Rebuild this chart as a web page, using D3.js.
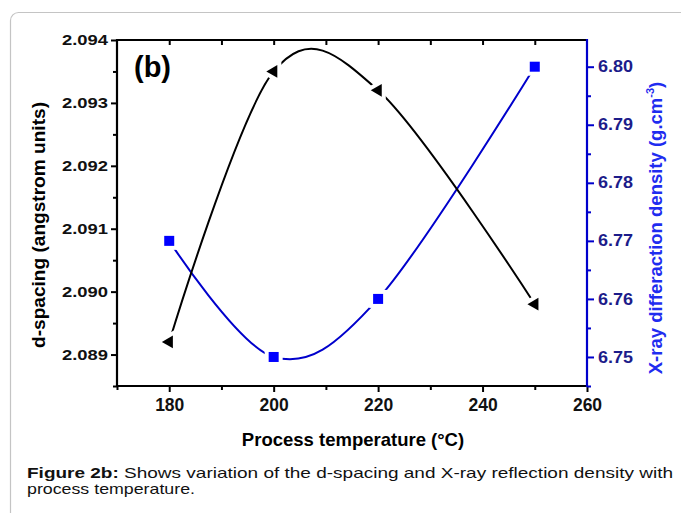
<!DOCTYPE html>
<html>
<head>
<meta charset="utf-8">
<script src="https://cdn.jsdelivr.net/npm/d3@7"></script>
<style>
  body { margin: 0; background: #fff; }
  svg { display: block; font-family: "Liberation Sans", Arial, sans-serif; }
</style>
</head>
<body>
<svg id="chart"></svg>
<script>
var width = 681;
var height = 513;

// data
var temperatures = [180, 200, 220, 250];
var dSpacing = [2.0892, 2.0935, 2.0932, 2.0898];
var density = [6.770, 6.750, 6.760, 6.800];

var xTicks = [180, 200, 220, 240, 260];
var xMinorTicks = [170, 190, 210, 230, 250];
var leftTicks = [2.089, 2.090, 2.091, 2.092, 2.093, 2.094];
var leftMinorTicks = [2.0885, 2.0895, 2.0905, 2.0915, 2.0925, 2.0935];
var rightTicks = [6.75, 6.76, 6.77, 6.78, 6.79, 6.80];
var rightMinorTicks = [6.745, 6.755, 6.765, 6.775, 6.785, 6.795];

var svg = d3.select('#chart').attr('width', width).attr('height', height);

// panel frame
svg.append('rect')
  .attr('x', 10.5).attr('y', 12.5)
  .attr('width', 720).attr('height', 560)
  .attr('rx', 8)
  .attr('fill', 'none')
  .attr('stroke', '#c4c4c4')
  .attr('stroke-width', 1.2);

var plot = {left: 117, right: 587, top: 40, bottom: 386};

var x = d3.scaleLinear().domain([170, 260]).range([plot.left, plot.right]);
var yLeft = d3.scaleLinear().domain([2.0885, 2.094]).range([plot.bottom, plot.top]);
var yRight = d3.scaleLinear().domain([6.745, 6.8046]).range([plot.bottom, plot.top]);

var blueLine = '#0000cc';
var blueMark = '#0000ff';
var blueText = '#1c1c8a';

// top axis: ticks pointing inward, no labels
var topAxis = svg.append('g')
  .attr('transform', 'translate(0,' + plot.top + ')')
  .call(d3.axisBottom(x).tickValues(d3.range(180, 260, 10)).tickSize(5).tickFormat(''));
topAxis.select('.domain').remove();
topAxis.selectAll('line').attr('stroke', '#000').attr('stroke-width', 2);

// bottom axis
var bottomMinor = svg.append('g')
  .attr('transform', 'translate(0,' + plot.bottom + ')')
  .call(d3.axisBottom(x).tickValues(xMinorTicks).tickSize(4).tickFormat(''));
bottomMinor.select('.domain').remove();
bottomMinor.selectAll('line').attr('stroke-width', 2);

var bottomAxis = svg.append('g')
  .attr('transform', 'translate(0,' + plot.bottom + ')')
  .call(d3.axisBottom(x).tickValues(xTicks).tickSize(6).tickSizeOuter(0).tickPadding(7).tickFormat(d3.format('d')));
bottomAxis.select('.domain').remove();
bottomAxis.selectAll('line').attr('stroke-width', 2);
bottomAxis.selectAll('text')
  .attr('font-size', 17.5).attr('font-weight', 'bold')
  .attr('font-family', '"Liberation Sans", Arial, sans-serif')
  .attr('fill', '#111');

// left axis
var leftMinor = svg.append('g')
  .attr('transform', 'translate(' + plot.left + ',0)')
  .call(d3.axisLeft(yLeft).tickValues(leftMinorTicks).tickSize(4).tickFormat(''));
leftMinor.select('.domain').remove();
leftMinor.selectAll('line').attr('stroke-width', 2);

var leftAxis = svg.append('g')
  .attr('transform', 'translate(' + plot.left + ',0)')
  .call(d3.axisLeft(yLeft).tickValues(leftTicks).tickSize(6).tickPadding(3).tickFormat(d3.format('.3f')));
leftAxis.select('.domain').remove();
leftAxis.selectAll('line').attr('stroke-width', 2);
leftAxis.selectAll('text')
  .attr('font-size', 15.5).attr('font-weight', 'bold')
  .attr('font-family', '"Liberation Sans", Arial, sans-serif')
  .attr('textLength', 46).attr('lengthAdjust', 'spacingAndGlyphs')
  .attr('fill', '#111');

// right axis in blue
var rightMinor = svg.append('g')
  .attr('transform', 'translate(' + plot.right + ',0)')
  .call(d3.axisRight(yRight).tickValues(rightMinorTicks).tickSize(4).tickFormat(''));
rightMinor.select('.domain').remove();
rightMinor.selectAll('line').attr('stroke', blueLine).attr('stroke-width', 2);

var rightAxis = svg.append('g')
  .attr('transform', 'translate(' + plot.right + ',0)')
  .call(d3.axisRight(yRight).tickValues(rightTicks).tickSize(7).tickPadding(4).tickFormat(d3.format('.2f')));
rightAxis.select('.domain').remove();
rightAxis.selectAll('line').attr('stroke', blueLine).attr('stroke-width', 2);
rightAxis.selectAll('text')
  .attr('font-size', 16).attr('font-weight', 'bold')
  .attr('font-family', '"Liberation Sans", Arial, sans-serif')
  .attr('textLength', 35).attr('lengthAdjust', 'spacingAndGlyphs')
  .attr('fill', blueText);

// frame lines of the plot box
svg.append('path')
  .attr('d', 'M' + plot.right + ',' + plot.top + 'H' + plot.left + 'V' + plot.bottom + 'H' + plot.right)
  .attr('fill', 'none').attr('stroke', '#000').attr('stroke-width', 2.2);
svg.append('line')
  .attr('x1', plot.right).attr('x2', plot.right)
  .attr('y1', plot.top - 1).attr('y2', plot.bottom + 1)
  .attr('stroke', blueLine).attr('stroke-width', 2.2);

// series
var rows = temperatures.map(function (t, i) {
  return {t: t, d: dSpacing[i], rho: density[i]};
});

var smooth = d3.curveCardinal.tension(0);

var dLine = d3.line()
  .x(function (d) { return x(d.t); })
  .y(function (d) { return yLeft(d.d); })
  .curve(smooth);

var rhoLine = d3.line()
  .x(function (d) { return x(d.t); })
  .y(function (d) { return yRight(d.rho); })
  .curve(smooth);

svg.append('path').datum(rows)
  .attr('d', rhoLine)
  .attr('fill', 'none').attr('stroke', blueLine).attr('stroke-width', 2);

svg.append('path').datum(rows)
  .attr('d', dLine)
  .attr('fill', 'none').attr('stroke', '#000').attr('stroke-width', 2);

var triangle = d3.symbol().type(d3.symbolTriangle).size(70);

// white halos make the small gaps round the markers
svg.selectAll('.tri-halo').data(rows).enter().append('path')
  .attr('transform', function (d) { return 'translate(' + x(d.t) + ',' + yLeft(d.d) + ') rotate(-90)'; })
  .attr('d', triangle)
  .attr('fill', '#fff').attr('stroke', '#fff').attr('stroke-width', 8);
svg.selectAll('.sq-halo').data(rows).enter().append('rect')
  .attr('x', function (d) { return x(d.t) - 5; })
  .attr('y', function (d) { return yRight(d.rho) - 5; })
  .attr('width', 10).attr('height', 10)
  .attr('fill', '#fff').attr('stroke', '#fff').attr('stroke-width', 8);

svg.selectAll('.tri').data(rows).enter().append('path')
  .attr('transform', function (d) { return 'translate(' + x(d.t) + ',' + yLeft(d.d) + ') rotate(-90)'; })
  .attr('d', triangle)
  .attr('fill', '#000');
svg.selectAll('.sq').data(rows).enter().append('rect')
  .attr('x', function (d) { return x(d.t) - 5; })
  .attr('y', function (d) { return yRight(d.rho) - 5; })
  .attr('width', 10).attr('height', 10)
  .attr('fill', blueMark);

// panel letter
svg.append('text')
  .attr('x', 134).attr('y', 77)
  .attr('font-size', 29).attr('font-weight', 'bold')
  .text('(b)');

// axis titles
svg.append('text')
  .attr('x', (plot.left + plot.right) / 2 + 1).attr('y', 446)
  .attr('text-anchor', 'middle')
  .attr('font-size', 18.5).attr('font-weight', 'bold')
  .text('Process temperature (°C)');

svg.append('text')
  .attr('transform', 'translate(45,225) rotate(-90)')
  .attr('text-anchor', 'middle')
  .attr('font-size', 18).attr('font-weight', 'bold')
  .attr('textLength', 246).attr('lengthAdjust', 'spacingAndGlyphs')
  .text('d-spacing (angstrom units)');

var rightTitle = svg.append('text')
  .attr('transform', 'translate(662,228) rotate(-90)')
  .attr('text-anchor', 'middle')
  .attr('font-size', 18.5).attr('font-weight', 'bold')
  .attr('fill', '#1f2cf0');
rightTitle.append('tspan').text('X-ray differaction density (g.cm');
rightTitle.append('tspan').attr('font-size', 11).attr('dy', -8).text('-3');
rightTitle.append('tspan').attr('dy', 8).text(')');

// caption
var caption = svg.append('text')
  .attr('x', 27).attr('y', 477.5)
  .attr('font-size', 15).attr('fill', '#111')
  .attr('textLength', 646).attr('lengthAdjust', 'spacingAndGlyphs');
caption.append('tspan').attr('font-weight', 'bold').text('Figure 2b:');
caption.append('tspan').text(' Shows variation of the d-spacing and X-ray reflection density with');
svg.append('text')
  .attr('x', 27).attr('y', 493.5)
  .attr('font-size', 15).attr('fill', '#111')
  .attr('textLength', 168).attr('lengthAdjust', 'spacingAndGlyphs')
  .text('process temperature.');
</script>
</body>
</html>
